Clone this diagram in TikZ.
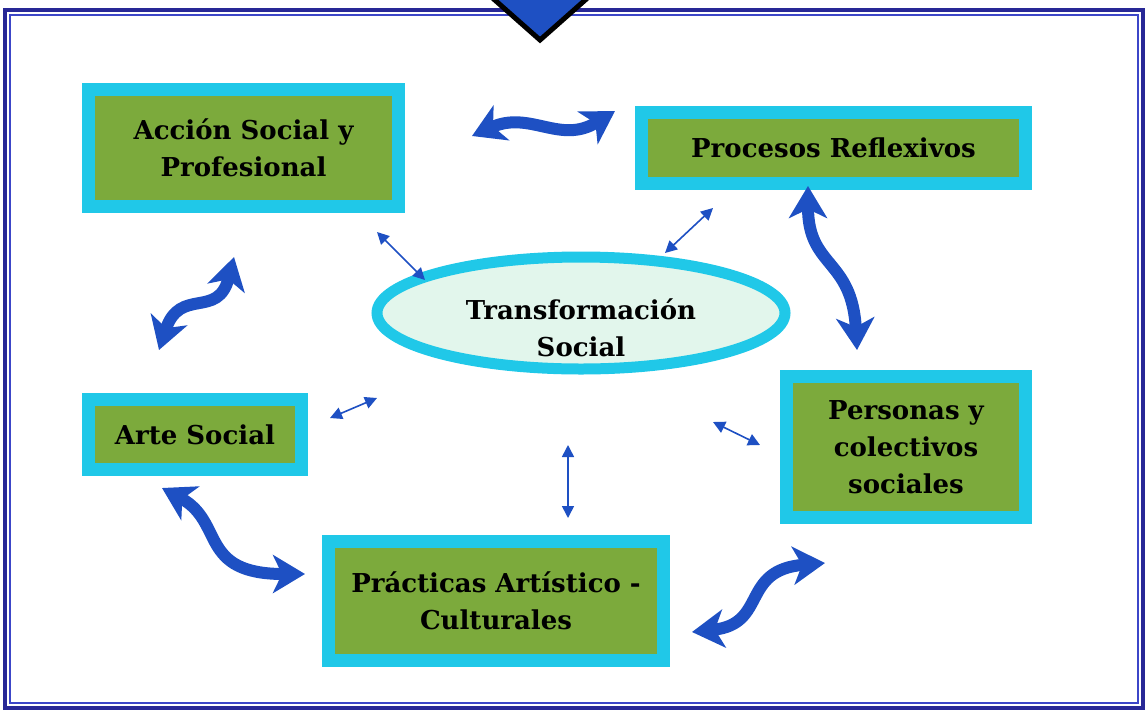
\documentclass[tikz,border=0pt]{standalone}
\usepackage{fontspec}
\setmainfont{DejaVu Serif}
\usetikzlibrary{shapes.geometric,arrows.meta}
\definecolor{cyanb}{RGB}{32,200,232}
\definecolor{greenf}{RGB}{124,170,60}
\definecolor{mint}{RGB}{226,246,236}
\definecolor{arrowblue}{RGB}{30,80,195}
\definecolor{framenavy}{RGB}{40,40,150}
\definecolor{frameblue}{RGB}{60,70,200}
\tikzset{
  box/.style={draw=cyanb, line width=13pt, fill=greenf, inner sep=0pt, align=center,
    font=\bfseries\fontsize{26}{37}\selectfont},
  bigarrow/.style={draw=arrowblue, line width=12pt,
    {Stealth[length=32pt,width=38pt,inset=9pt]}-{Stealth[length=32pt,width=38pt,inset=9pt]}},
  smallarrow/.style={draw=arrowblue, line width=1.6pt,
    {Triangle[length=12pt,width=12pt]}-{Triangle[length=12pt,width=12pt]}},
}
\begin{document}
\begin{tikzpicture}[x=1pt,y=-1pt]
\useasboundingbox (0,0) rectangle (1148,713);
\fill[white] (0,0) rectangle (1148,713);
% frame
\draw[framenavy, line width=3.5pt] (5,10) rectangle (1143,708);
\draw[frameblue, line width=1.2pt] (10,15) rectangle (1138,703);
% top triangle
\begin{scope}
\clip (0,0) rectangle (1148,713);
\draw[black, line width=5pt, fill=arrowblue, line join=miter] (488,-6) -- (592,-6) -- (540,40) -- cycle;
\end{scope}
% boxes
\node[box, minimum width=310pt, minimum height=117pt] (acc) at (243.5,148) {Acción Social y\\Profesional};
\node[box, minimum width=384pt, minimum height=71pt] (proc) at (833.5,148) {Procesos Reflexivos};
\node[box, minimum width=213pt, minimum height=70pt] (arte) at (195,434.5) {Arte Social};
\node[box, minimum width=239pt, minimum height=141pt] (pers) at (906,447) {Personas y\\colectivos\\sociales};
\node[box, minimum width=335pt, minimum height=119pt] (prac) at (496,601) {Prácticas Artístico -\\Culturales};
% ellipse
\node[ellipse, draw=cyanb, line width=11pt, fill=mint, minimum width=408pt, minimum height=112pt] (ts) at (581,313) {};
\node[font=\bfseries\fontsize{26}{37}\selectfont, align=center] (tst) at (581,328) {Transformación\\Social};
% big wavy arrows
\coordinate (w1a) at (472,136); \coordinate (w1b) at (615,111);
\draw[bigarrow] (w1a) .. controls (530,110) and (560,145) .. (w1b);
\coordinate (w2a) at (808,186); \coordinate (w2b) at (857,350);
\draw[bigarrow] (w2a) .. controls (808,268) and (852,258) .. (w2b);
\coordinate (w3a) at (234,257); \coordinate (w3b) at (159,350);
\draw[bigarrow] (w3a) .. controls (218,320) and (180,286) .. (w3b);
\coordinate (w4a) at (162,488); \coordinate (w4b) at (305,574);
\draw[bigarrow] (w4a) .. controls (225,522) and (198,574) .. (w4b);
\coordinate (w5a) at (692,632); \coordinate (w5b) at (825,563);
\draw[bigarrow] (w5a) .. controls (768,624) and (740,570) .. (w5b);
% small arrows
\coordinate (s1a) at (377,232); \coordinate (s1b) at (425,280);
\draw[smallarrow] (s1a) -- (s1b);
\coordinate (s2a) at (713,208); \coordinate (s2b) at (665,253);
\draw[smallarrow] (s2a) -- (s2b);
\coordinate (s3a) at (330,418); \coordinate (s3b) at (377,398);
\draw[smallarrow] (s3a) -- (s3b);
\coordinate (s4a) at (568,445); \coordinate (s4b) at (568,518);
\draw[smallarrow] (s4a) -- (s4b);
\coordinate (s5a) at (713,422); \coordinate (s5b) at (760,445);
\draw[smallarrow] (s5a) -- (s5b);
\end{tikzpicture}
\end{document}
